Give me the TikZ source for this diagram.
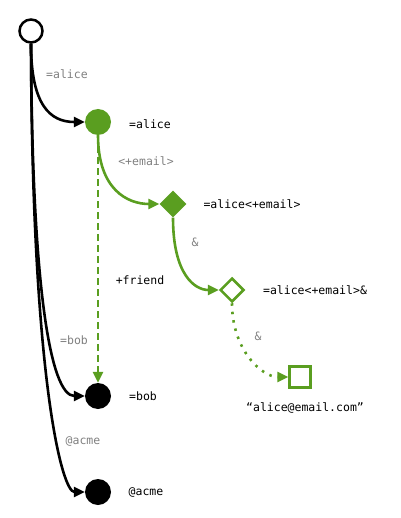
\documentclass[tikz,border=0pt]{standalone}
\usepackage{fontspec}
\setmonofont{DejaVu Sans Mono}
\usetikzlibrary{arrows.meta,shapes.geometric}
\definecolor{grn}{HTML}{5A9E20}
\definecolor{lblgray}{HTML}{808080}
\begin{document}
\begin{tikzpicture}[x=1pt,y=-1pt,
  every node/.style={font=\ttfamily\fontsize{11.5}{13}\selectfont},
  root/.style={circle,draw=black,line width=2.5pt,fill=white,minimum size=23pt,inner sep=0pt},
  gdot/.style={circle,fill=grn,minimum size=26pt,inner sep=0pt},
  bdot/.style={circle,fill=black,minimum size=26pt,inner sep=0pt},
  gdiam/.style={diamond,fill=grn,minimum size=27pt,inner sep=0pt},
  odiam/.style={diamond,draw=grn,line width=2.5pt,fill=white,minimum size=24pt,inner sep=0pt},
  osq/.style={rectangle,draw=grn,line width=2.5pt,fill=white,minimum size=21pt,inner sep=0pt},
  lbl/.style={text=black},
  elbl/.style={text=lblgray},
  bedge/.style={draw=black,line width=2.6pt,-{Triangle[length=11pt,width=10pt]}},
  gedge/.style={draw=grn,line width=2.6pt,-{Triangle[length=11pt,width=10pt]}},
]
\useasboundingbox (0,0) rectangle (400,518);
% nodes
\node[root] (r) at (31,31) {};
\node[gdot] (a) at (98,122) {};
\node[gdiam] (d1) at (173,204) {};
\node[odiam] (d2) at (232,290) {};
\node[osq] (s) at (300,377) {};
\node[bdot] (b) at (98,396) {};
\node[bdot] (c) at (98,492) {};
% node labels
\node[lbl] (la) at (150,124) {=alice};
\node[lbl] (ld1) at (252,204) {=alice<+email>};
\node[lbl] (ld2) at (315,290) {=alice<+email>\&};
\node[lbl] (ls) at (305,408) {“alice@email.com”};
\node[lbl] (lb) at (143,396) {=bob};
\node[lbl] (lc) at (146,492) {@acme};
% edges
\draw[bedge] (r.south) .. controls (31,105) and (50,122) .. (a.west);
\draw[bedge] (r.south) .. controls (32,285) and (50,396) .. (b.west);
\draw[bedge] (r.south) .. controls (32,380) and (62,492) .. (c.west);
\draw[gedge,dash pattern=on 7pt off 4pt] (a.south) -- (b.north);
\draw[gedge] (a.south) .. controls (98,190) and (128,204) .. (d1.west);
\draw[gedge] (d1.south) .. controls (173,275) and (195,290) .. (d2.west);
\draw[gedge,dash pattern=on 2.5pt off 6pt] (d2.south) .. controls (232,350) and (262,377) .. (s.west);
% edge labels
\node[elbl] (e1) at (67,74) {=alice};
\node[elbl] (e2) at (146,161) {<+email>};
\node[elbl] (e3) at (195,242) {\&};
\node[elbl] (e4) at (258,336) {\&};
\node[elbl] (e5) at (74,340) {=bob};
\node[elbl] (e6) at (83,441) {@acme};
\node[lbl] (e7) at (140,280) {+friend};
\end{tikzpicture}
\end{document}
